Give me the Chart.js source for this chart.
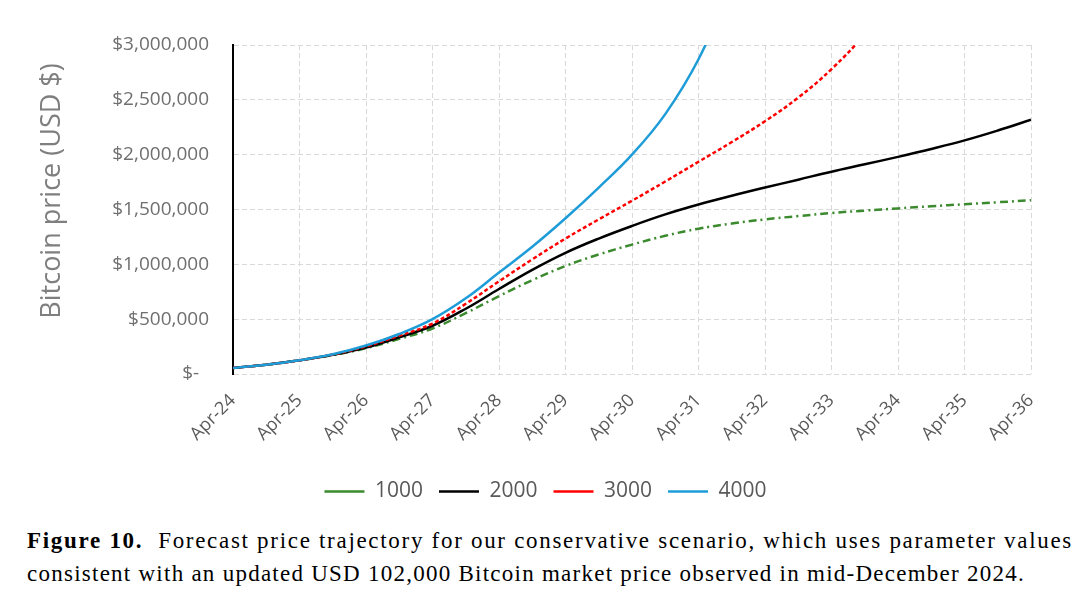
<!DOCTYPE html>
<html>
<head>
<meta charset="utf-8">
<script src="https://cdn.jsdelivr.net/npm/chart.js@4.4.1/dist/chart.umd.min.js"></script>
<style>
html,body{margin:0;padding:0;background:#fff;}
#wrap{position:absolute;left:0;top:0;width:1091px;height:520px;}
#cap{position:absolute;left:27px;width:1046px;top:524px;font-family:"Liberation Serif","Times New Roman",serif;font-size:23px;line-height:33px;color:#000;}
#cap .l1{white-space:nowrap;}
#cap .l2{white-space:nowrap;}
</style>
</head>
<body>
<div id="wrap"><canvas id="c"></canvas></div>
<div id="cap">
  <div class="l1"><span id="l1s"><b>Figure 10.</b>&nbsp; Forecast price trajectory for our conservative scenario, which uses parameter values</span></div>
  <div class="l2"><span id="l2s">consistent with an updated USD 102,000 Bitcoin market price observed in mid-December 2024.</span></div>
</div>
<script>
// years after Apr-24
const years = [0,0.5,1,1.5,2,2.5,3,3.5,4,4.5,5,5.5,6,6.5,7,7.5,8,8.5,9,9.5,10,10.5,11,11.5,12];
const xTickLabels = ['Apr-24','Apr-25','Apr-26','Apr-27','Apr-28','Apr-29','Apr-30','Apr-31','Apr-32','Apr-33','Apr-34','Apr-35','Apr-36'];
const yTickLabels = ['$-  ','$500,000','$1,000,000','$1,500,000','$2,000,000','$2,500,000','$3,000,000'];
const seriesNames = ['1000','2000','3000','4000'];
const s1000 = [55000,85000,125000,172000,235000,320000,415000,555000,710000,855000,985000,1090000,1180000,1260000,1325000,1372000,1410000,1440000,1468000,1490000,1510000,1530000,1548000,1566000,1585000];
const s2000 = [55000,85000,125000,175000,242000,335000,440000,595000,775000,950000,1105000,1235000,1350000,1455000,1545000,1625000,1700000,1772000,1845000,1912000,1980000,2052000,2130000,2220000,2318000];
const s3000 = [55000,85000,125000,178000,252000,350000,460000,640000,845000,1045000,1235000,1410000,1580000,1755000,1935000,2115000,2305000,2520000,2780000,3100000,3500000];
const s4000 = [55000,85000,125000,180000,260000,365000,500000,690000,925000,1160000,1420000,1700000,2000000,2370000,2870000,3550000];

function pts(arr){ return arr.map((v,i)=>({x:years[i], y:v})); }

const yTitle = 'Bitcoin price (USD $)';
const yTitlePlugin = {
  id:'yTitle',
  afterDraw(chart){
    const ctx = chart.ctx;
    ctx.save();
    ctx.translate(52, 191);
    ctx.rotate(-Math.PI/2);
    ctx.font = '27px "Open Sans"';
    ctx.fillStyle = '#7f7f7f';
    ctx.textAlign = 'center';
    ctx.textBaseline = 'middle';
    ctx.fillText(yTitle, 0, 0);
    ctx.restore();
  }
};

const common = {pointRadius:0, borderWidth:2.5, fill:false, tension:0.4};
new Chart(document.getElementById('c'), {
  type:'line',
  data:{
    datasets:[
      Object.assign({label:seriesNames[0], data:pts(s1000), borderColor:'#3B8A2E', backgroundColor:'#3B8A2E', borderDash:[8,4,2,4], order:3}, common),
      Object.assign({label:seriesNames[1], data:pts(s2000), borderColor:'#000000', backgroundColor:'#000000', order:2}, common),
      Object.assign({label:seriesNames[2], data:pts(s3000), borderColor:'#FF0000', backgroundColor:'#FF0000', borderDash:[4,2.5], order:1}, common),
      Object.assign({label:seriesNames[3], data:pts(s4000), borderColor:'#1E9CD8', backgroundColor:'#1E9CD8', order:0}, common)
    ]
  },
  options:{
    responsive:true, maintainAspectRatio:false, animation:false,
    layout:{padding:{left:0,right:0,top:45,bottom:8}},
    plugins:{
      legend:{position:'bottom',
        labels:{usePointStyle:true, pointStyle:'line', pointStyleWidth:40, padding:16,
          color:'#595959', font:{family:'"Open Sans"', size:21},
          sort:(a,b)=>a.datasetIndex-b.datasetIndex}},
      tooltip:{enabled:false}
    },
    scales:{
      x:{type:'linear', min:0, max:12,
        afterFit(s){ s.height = 91; },
        ticks:{stepSize:1, autoSkip:false, minRotation:45, maxRotation:45, padding:16,
          callback:(v)=>xTickLabels[Math.round(v)], color:'#595959', font:{family:'"Open Sans"', size:18}},
        grid:{color:'#d9d9d9', lineWidth:1, drawTicks:false},
        border:{display:false, dash:[5,3]}
      },
      y:{min:0, max:3000000,
        afterFit(s){ s.width = 233; },
        ticks:{stepSize:500000, padding:24,
          callback:(v)=>yTickLabels[Math.round(v/500000)], color:'#6f6f6f', font:{family:'"Open Sans"', size:19}},
        grid:{color:'#d9d9d9', lineWidth:1, drawTicks:false},
        border:{display:true, color:'#000000', width:2, dash:[5,3]}
      },
      yRight:{position:'right', display:true,
        afterFit(s){ s.width = 60; },
        ticks:{display:false}, grid:{display:false, drawTicks:false}, border:{display:false}
      }
    }
  },
  plugins:[yTitlePlugin]
});

// stretch caption lines to match reference widths
function fit(id, target){
  const s = document.getElementById(id);
  const w = s.getBoundingClientRect().width;
  const n = s.textContent.length;
  s.style.letterSpacing = ((target - w)/n).toFixed(3) + 'px';
}
fit('l1s', 1046);
fit('l2s', 998);
</script>
</body>
</html>
